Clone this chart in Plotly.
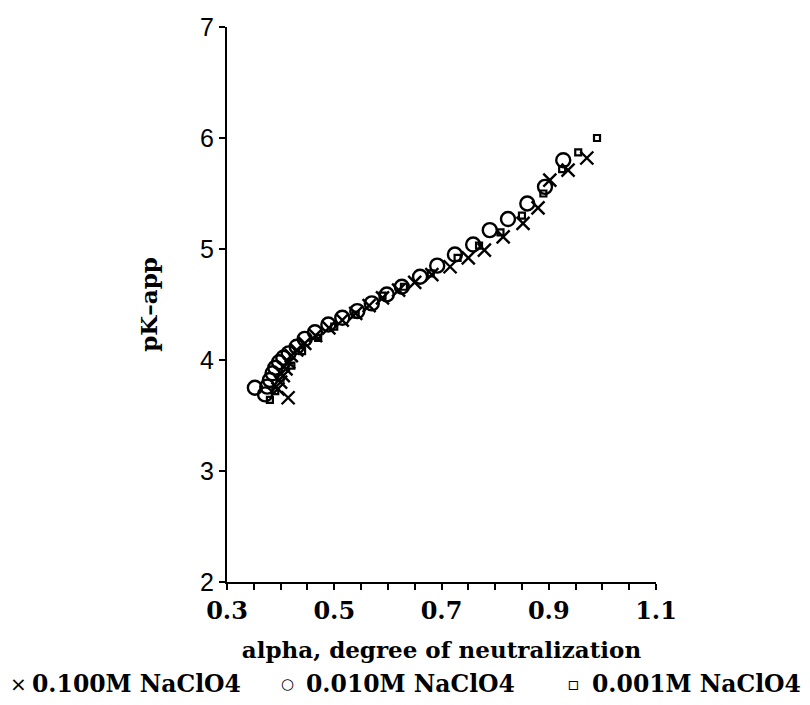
import plotly.graph_objects as go

# 0.100M NaClO4 (x markers)
alpha_100 = [0.414, 0.395, 0.400, 0.405, 0.410, 0.415, 0.420, 0.430, 0.445, 0.465, 0.490, 0.515,
             0.540, 0.565, 0.590, 0.620, 0.650, 0.682, 0.716, 0.750, 0.780, 0.815, 0.852, 0.880,
             0.902, 0.936, 0.971]
pk_100 = [3.66, 3.74, 3.80, 3.86, 3.92, 3.98, 4.04, 4.09, 4.15, 4.22, 4.29, 4.36,
          4.42, 4.49, 4.56, 4.63, 4.70, 4.77, 4.84, 4.92, 4.99, 5.11, 5.23, 5.37,
          5.62, 5.71, 5.82]

# 0.010M NaClO4 (open circles)
alpha_010 = [0.352, 0.371, 0.375, 0.380, 0.385, 0.390, 0.397, 0.405, 0.415, 0.430, 0.445, 0.464,
             0.489, 0.515, 0.543, 0.570, 0.598, 0.626, 0.660, 0.692, 0.725, 0.759, 0.790, 0.824,
             0.860, 0.893, 0.927]
pk_010 = [3.75, 3.69, 3.76, 3.82, 3.88, 3.93, 3.98, 4.02, 4.06, 4.12, 4.19, 4.25,
          4.32, 4.38, 4.44, 4.51, 4.59, 4.66, 4.75, 4.85, 4.95, 5.04, 5.17, 5.27,
          5.41, 5.56, 5.80]

# 0.001M NaClO4 (small squares)
alpha_001 = [0.380, 0.390, 0.400, 0.420, 0.440, 0.470, 0.500, 0.540, 0.590, 0.630, 0.680,
             0.730, 0.770, 0.810, 0.850, 0.890, 0.925, 0.955, 0.990]
pk_001 = [3.64, 3.72, 3.84, 3.95, 4.08, 4.20, 4.30, 4.41, 4.58, 4.66, 4.78,
          4.92, 5.03, 5.15, 5.30, 5.50, 5.72, 5.87, 6.00]

x_ticks = [0.3, 0.5, 0.7, 0.9, 1.1]
x_ticklabels = ["0.3", "0.5", "0.7", "0.9", "1.1"]
y_ticks = [2, 3, 4, 5, 6, 7]

legend_symbols = ["\u00d7", "\u25cb", "\u25ab"]
legend_labels = ["0.100M NaClO4", "0.010M NaClO4", "0.001M NaClO4"]

serif = "DejaVu Serif"

fig = go.Figure()
fig.add_trace(go.Scatter(
    x=alpha_001, y=pk_001, mode="markers", name=legend_labels[2],
    marker=dict(symbol="square-open", size=6, color="black", line=dict(width=2.2, color="black")),
))
fig.add_trace(go.Scatter(
    x=alpha_010, y=pk_010, mode="markers", name=legend_labels[1],
    marker=dict(symbol="circle-open", size=14, color="black", line=dict(width=2.4, color="black")),
))
fig.add_trace(go.Scatter(
    x=alpha_100, y=pk_100, mode="markers", name=legend_labels[0],
    marker=dict(symbol="x-thin-open", size=13, color="black", line=dict(width=2.4, color="black")),
))

# legend drawn as text row along the bottom
L, W = 227, 429  # plot-area left edge and width in px
sym_px = [18, 287, 573]
lab_px = [30, 304, 590]
sym_sizes = [20, 15, 18]
for s, l, sp, lp, ss in zip(legend_symbols, legend_labels, sym_px, lab_px, sym_sizes):
    fig.add_annotation(
        x=(sp - L) / W, xref="paper", y=-0.183, yref="paper",
        text=s, showarrow=False, xanchor="center", yanchor="middle",
        font=dict(family="DejaVu Sans", size=ss, color="black"),
    )
    fig.add_annotation(
        x=(lp - L) / W, xref="paper", y=-0.183, yref="paper",
        text=l, showarrow=False, xanchor="left", yanchor="middle",
        font=dict(family=serif, size=23.5, color="black", weight="bold"),
    )

fig.update_layout(
    width=810, height=705,
    margin=dict(l=227, r=154, t=27, b=123, autoexpand=False),
    paper_bgcolor="white", plot_bgcolor="white",
    showlegend=False,
    xaxis=dict(
        range=[0.3, 1.1], tickvals=x_ticks, ticktext=x_ticklabels,
        ticks="outside", ticklen=6, tickwidth=2, tickcolor="black",
        minor=dict(dtick=0.05, ticks="outside", ticklen=6, tickwidth=2, tickcolor="black"),
        showline=True, linecolor="black", linewidth=2,
        showgrid=False, zeroline=False, automargin=False,
        tickfont=dict(family=serif, size=24, color="black", weight="bold"),
        title=dict(text="alpha, degree of neutralization", standoff=18,
                   font=dict(family=serif, size=23, color="black", weight="bold")),
    ),
    yaxis=dict(
        range=[2, 7], tickvals=y_ticks,
        ticks="outside", ticklen=6, tickwidth=2, tickcolor="black",
        showline=True, linecolor="black", linewidth=2,
        showgrid=False, zeroline=False, automargin=False,
        tickfont=dict(family="Liberation Sans", size=25, color="black"),
        title=dict(text="pK\u2013app", standoff=36,
                   font=dict(family=serif, size=23, color="black", weight="bold")),
    ),
)

fig.write_html("out.html")
